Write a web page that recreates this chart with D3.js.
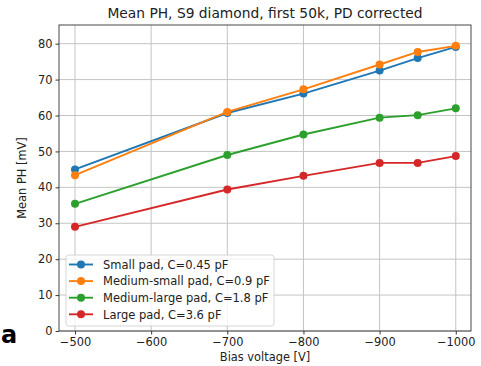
<!DOCTYPE html>
<html>
<head>
<meta charset="utf-8">
<script src="https://cdn.jsdelivr.net/npm/d3@7"></script>
<style>
  html, body { margin: 0; padding: 0; background: #fff; }
  svg { display: block; font-family: "DejaVu Sans", sans-serif; }
</style>
</head>
<body>
<svg id="chart" width="481" height="366"></svg>
<script>
// Bias voltages scanned [V]
const biasVoltages = [-500, -700, -800, -900, -950, -1000];

// Mean pulse height [mV] per pad size
const smallPad       = [45.0, 60.7, 66.1, 72.5, 76.0, 79.1];
const mediumSmallPad = [43.4, 61.0, 67.3, 74.2, 77.7, 79.4];
const mediumLargePad = [35.4, 49.0, 54.7, 59.4, 60.1, 62.0];
const largePad       = [29.0, 39.4, 43.2, 46.8, 46.8, 48.7];

const seriesNames = [
  "Small pad, C=0.45 pF",
  "Medium-small pad, C=0.9 pF",
  "Medium-large pad, C=1.8 pF",
  "Large pad, C=3.6 pF"
];
const seriesValues = [smallPad, mediumSmallPad, mediumLargePad, largePad];
const seriesColors = ["#1f77b4", "#ff7f0e", "#2ca02c", "#d62728"];

const xTicks = [-500, -600, -700, -800, -900, -1000];
const yTicks = [0, 10, 20, 30, 40, 50, 60, 70, 80];

const svg = d3.select("#chart");
const plot = { left: 59, right: 471, top: 25, bottom: 331 };

const x = d3.scaleLinear().domain([-479, -1020]).range([plot.left, plot.right]);
const y = d3.scaleLinear().domain([0, 85.2]).range([plot.bottom, plot.top]);

const fmt = d => (d < 0 ? "\u2212" + Math.abs(d) : String(d));

// grid
const grid = svg.append("g").attr("stroke", "#c4c4c4").attr("stroke-width", 1);
grid.selectAll("line.vx").data(xTicks).join("line")
  .attr("x1", d => x(d)).attr("x2", d => x(d))
  .attr("y1", plot.top).attr("y2", plot.bottom);
grid.selectAll("line.hy").data(yTicks).join("line")
  .attr("y1", d => y(d)).attr("y2", d => y(d))
  .attr("x1", plot.left).attr("x2", plot.right);

// series
const line = d3.line().x((d, i) => x(biasVoltages[i])).y(d => y(d));
seriesValues.forEach((vals, k) => {
  const g = svg.append("g");
  g.append("path").datum(vals).attr("d", line)
    .attr("fill", "none").attr("stroke", seriesColors[k]).attr("stroke-width", 1.9);
  g.selectAll("circle").data(vals).join("circle")
    .attr("cx", (d, i) => x(biasVoltages[i])).attr("cy", d => y(d))
    .attr("r", 4).attr("fill", seriesColors[k]);
});

// axes
const xAxis = d3.axisBottom(x).tickValues(xTicks).tickFormat(fmt).tickSize(3.5).tickPadding(3);
const yAxis = d3.axisLeft(y).tickValues(yTicks).tickFormat(fmt).tickSize(3.5).tickPadding(3);

const gx = svg.append("g").attr("transform", `translate(0,${plot.bottom})`).call(xAxis);
const gy = svg.append("g").attr("transform", `translate(${plot.left},0)`).call(yAxis);
[gx, gy].forEach(g => {
  g.select(".domain").remove();
  g.selectAll("text").attr("font-size", 11.4).attr("fill", "#222")
    .attr("font-family", "DejaVu Sans, sans-serif");
  g.selectAll("line").attr("stroke", "#222").attr("stroke-width", 0.9);
});

// frame
svg.append("rect")
  .attr("x", plot.left).attr("y", plot.top)
  .attr("width", plot.right - plot.left).attr("height", plot.bottom - plot.top)
  .attr("fill", "none").attr("stroke", "#333").attr("stroke-width", 0.9);

// title and labels
svg.append("text").attr("x", (plot.left + plot.right) / 2).attr("y", 18)
  .attr("text-anchor", "middle").attr("font-size", 13.8).attr("fill", "#222")
  .text("Mean PH, S9 diamond, first 50k, PD corrected");
svg.append("text").attr("x", (plot.left + plot.right) / 2).attr("y", 361)
  .attr("text-anchor", "middle").attr("font-size", 11.4).attr("fill", "#222")
  .text("Bias voltage [V]");
svg.append("text")
  .attr("transform", `translate(26,${(plot.top + plot.bottom) / 2}) rotate(-90)`)
  .attr("text-anchor", "middle").attr("font-size", 11.4).attr("fill", "#222")
  .text("Mean PH [mV]");

// legend
const lg = svg.append("g").attr("transform", "translate(66,255)");
lg.append("rect").attr("width", 208).attr("height", 71).attr("rx", 2.5)
  .attr("fill", "rgba(255,255,255,0.8)").attr("stroke", "#ccc").attr("stroke-width", 0.8);
seriesNames.forEach((name, k) => {
  const yy = 9.5 + k * 16.6;
  lg.append("line").attr("x1", 3).attr("x2", 27).attr("y1", yy).attr("y2", yy)
    .attr("stroke", seriesColors[k]).attr("stroke-width", 1.9);
  lg.append("circle").attr("cx", 15).attr("cy", yy).attr("r", 4).attr("fill", seriesColors[k]);
  lg.append("text").attr("x", 37).attr("y", yy + 4.2).attr("font-size", 11.5).attr("fill", "#222").text(name);
});

// panel letter at the lower left
svg.append("text")
  .attr("x", 1).attr("y", 343)
  .attr("font-size", 24).attr("font-weight", "bold")
  .attr("fill", "#000").text("a");
</script>
</body>
</html>
